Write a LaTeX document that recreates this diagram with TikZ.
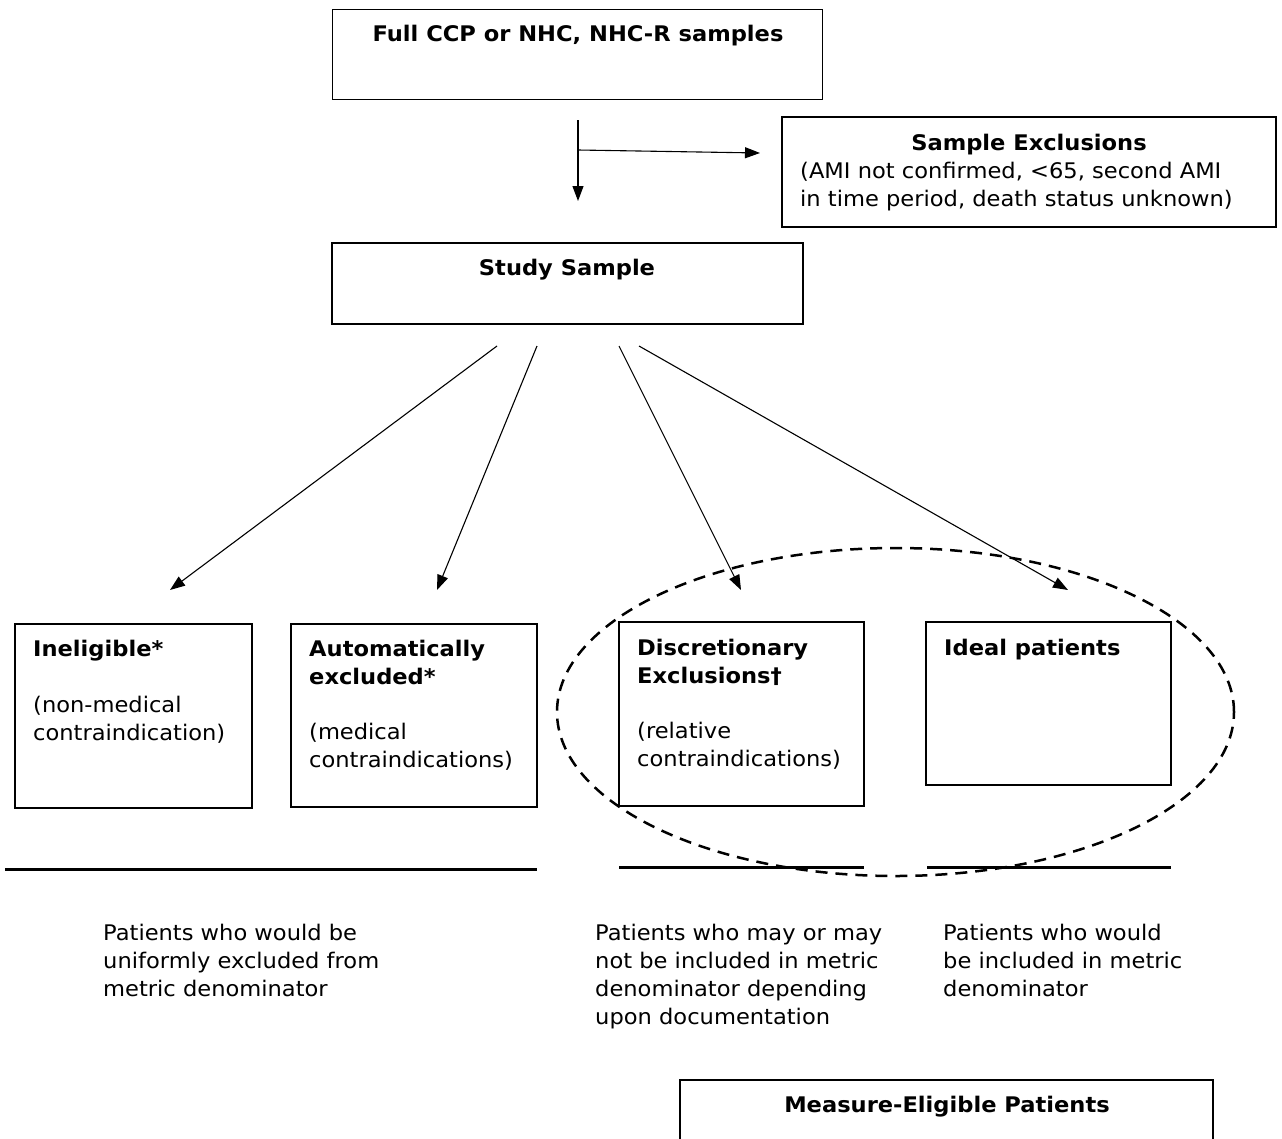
\documentclass[tikz,border=0pt]{standalone}
\usepackage{fontspec}
\setmainfont{DejaVu Sans}[FakeStretch=1.05]
\usetikzlibrary{arrows.meta,shapes.geometric}
\begin{document}
\begin{tikzpicture}[x=1pt,y=-1pt,
  txt/.style={inner sep=0pt, align=left, font=\fontsize{21.5}{28}\selectfont},
  btxt/.style={txt, font=\fontsize{21.5}{28}\selectfont\bfseries},
  box/.style={draw, line width=1.7pt, inner sep=0pt},
  arr/.style={line width=1.1pt, -{Triangle[length=15pt,width=11pt]}},
  rule/.style={line width=3pt},
  dashell/.style={draw, ellipse, dashed, line width=2.5pt, dash pattern=on 12pt off 8pt, inner sep=0pt}]
\useasboundingbox (0,0) rectangle (1282,1138);
% boxes
\node[box, minimum width=490pt, minimum height=90pt] (full) at (577.5,54.5) {};
\node[box, minimum width=494pt, minimum height=110pt] (sexc) at (1029,172) {};
\node[box, minimum width=471pt, minimum height=81pt] (study) at (567.5,283.5) {};
\node[box, minimum width=237pt, minimum height=184pt] (inel) at (133.5,716) {};
\node[box, minimum width=246pt, minimum height=183pt] (auto) at (414,715.5) {};
\node[box, minimum width=245pt, minimum height=184pt] (disc) at (741.5,714) {};
\node[box, minimum width=245pt, minimum height=163pt] (ideal) at (1048.5,703.5) {};
\node[box, minimum width=533pt, minimum height=120pt, anchor=north] (meas) at (946.5,1079) {};
\node[dashell, minimum width=677pt, minimum height=328pt] (elli) at (895.5,712) {};
% texts (multi-line nodes: base anchor = baseline of the last line)
\node[btxt, anchor=base] (tfull) at (578,41) {Full CCP or NHC, NHC-R samples};
\node[btxt, anchor=base] (tsexc) at (1029,150) {Sample Exclusions};
\node[txt, anchor=base west] (tsexc2) at (800,206) {(AMI not confirmed, {<}65, second AMI\\in time period, death status unknown)};
\node[btxt, anchor=base] (tstudy) at (567,275) {Study Sample};
\node[btxt, anchor=base west] (tinel) at (33,656) {Ineligible*};
\node[txt, anchor=base west] (tinel2) at (33,740) {(non-medical\\contraindication)};
\node[btxt, anchor=base west] (tauto) at (309,684) {Automatically\\excluded*};
\node[txt, anchor=base west] (tauto2) at (309,767) {(medical\\contraindications)};
\node[btxt, anchor=base west] (tdisc) at (637,683) {Discretionary\\Exclusions†};
\node[txt, anchor=base west] (tdisc2) at (637,766) {(relative\\contraindications)};
\node[btxt, anchor=base west] (tideal) at (944,655) {Ideal patients};
\node[txt, anchor=base west] (p1) at (103,996) {Patients who would be\\uniformly excluded from\\metric denominator};
\node[txt, anchor=base west] (p2) at (595,1024) {Patients who may or may\\not be included in metric\\denominator depending\\upon documentation};
\node[txt, anchor=base west] (p3) at (943,996) {Patients who would\\be included in metric\\denominator};
\node[btxt, anchor=base] (tmeas) at (947,1112) {Measure-Eligible Patients};
% rules
\coordinate (r1a) at (5,869); \coordinate (r1b) at (537,869);
\coordinate (r2a) at (619,867); \coordinate (r2b) at (864,867);
\coordinate (r3a) at (927,867); \coordinate (r3b) at (1171,867);
\draw[rule] (r1a) -- (r1b);
\draw[rule] (r2a) -- (r2b);
\draw[rule] (r3a) -- (r3b);
% arrows
\coordinate (v0) at (578,120); \coordinate (v1) at (578,201);
\coordinate (h0) at (578,150); \coordinate (h1) at (760,153);
\draw[arr] (v0) -- (v1);
\draw[arr] (h0) -- (h1);
\coordinate (s1) at (497,346); \coordinate (e1) at (170,590);
\coordinate (s2) at (537,346); \coordinate (e2) at (437,590);
\coordinate (s3) at (619,346); \coordinate (e3) at (741,590);
\coordinate (s4) at (639,346); \coordinate (e4) at (1068,590);
\draw[arr] (s1) -- (e1);
\draw[arr] (s2) -- (e2);
\draw[arr] (s3) -- (e3);
\draw[arr] (s4) -- (e4);
\end{tikzpicture}
\end{document}
